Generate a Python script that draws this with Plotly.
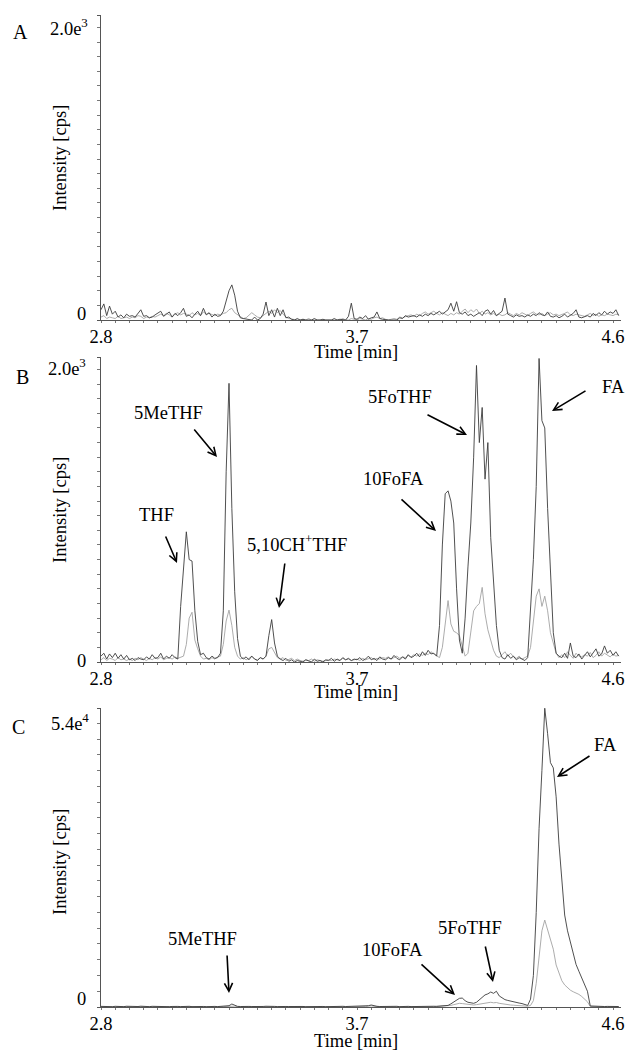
import plotly.graph_objects as go

# ---------------- data ----------------
TIME_START = 2.80   # min
TIME_STEP = 0.01    # min, sampling step of the traces below
X_TICKS = [2.8, 3.7, 4.6]
Y_MAX_AB = 2085
Y_MAX_C = 56900

# Panel A (blank) - intensity [cps]
A_dark = [
    70, 110, 30, 95, 40, 60, 20, 35, 15, 40,
    25, 30, 20, 45, 70, 25, 30, 15, 20, 35,
    50, 60, 25, 40, 55, 20, 45, 30, 50, 80,
    25, 35, 15, 40, 60, 30, 80, 35, 50, 20,
    40, 25, 30, 60, 130, 200, 240, 170, 60, 15,
    10, 5, 0, 0, 20, 0, 10, 40, 123, 30,
    70, 20, 80, 30, 70, 15, 20, 5, 0, 10,
    0, 5, 0, 0, 0, 10, 0, 0, 5, 0,
    0, 0, 10, 0, 5, 0, 0, 25, 115, 10,
    5, 20, 10, 30, 5, 15, 20, 55, 10, 5,
    0, 0, 0, 0, 0, 15, 10, 30, 20, 25,
    30, 20, 35, 25, 40, 30, 45, 35, 50, 60,
    40, 55, 70, 115, 60, 125, 50, 40, 55, 30,
    40, 25, 35, 50, 30, 60, 70, 40, 65, 30,
    45, 60, 150, 40, 30, 20, 35, 25, 30, 20,
    35, 25, 40, 30, 50, 35, 30, 55, 25, 20,
    30, 15, 25, 40, 20, 30, 45, 70, 20, 15,
    25, 30, 20, 45, 30, 50, 35, 60, 40, 55,
    45, 70, 30,
]
A_light = [
    20, 30, 10, 20, 15, 10, 25, 10, 15, 20,
    10, 20, 15, 30, 25, 10, 20, 15, 25, 20,
    30, 40, 30, 45, 35, 20, 40, 50, 35, 45,
    40, 30, 50, 35, 45, 30, 55, 40, 45, 35,
    30, 40, 35, 45, 50, 70, 80, 50, 35, 20,
    10, 15, 30, 50, 35, 20, 15, 30, 40, 60,
    45, 70, 50, 65, 40, 20, 10, 5, 0, 0,
    0, 5, 0, 10, 0, 0, 5, 0, 0, 5,
    0, 0, 5, 0, 0, 10, 0, 0, 10, 5,
    0, 10, 5, 0, 10, 5, 15, 20, 10, 15,
    5, 0, 5, 10, 5, 20, 15, 25, 30, 35,
    25, 40, 30, 45, 55, 40, 50, 60, 45, 35,
    50, 40, 30, 45, 35, 50, 40, 60, 75, 50,
    70, 55, 75, 45, 60, 40, 50, 35, 45, 30,
    40, 30, 35, 50, 40, 30, 45, 35, 50, 40,
    30, 45, 55, 40, 35, 45, 30, 40, 50, 35,
    40, 30, 35, 45, 55, 35, 30, 40, 35, 30,
    25, 35, 45, 30, 40, 25, 35, 30, 40, 35,
    30, 40, 35,
]

# Panel B (standards)
B_dark = [
    40, 60, 20, 55, 30, 60, 25, 50, 20, 45,
    15, 25, 10, 30, 20, 15, 35, 20, 50, 25,
    30, 60, 20, 40, 25, 50, 30, 20, 380, 620,
    890, 700, 690, 350, 140, 50, 60, 30, 20, 40,
    25, 30, 60, 350, 1300, 1905, 1050, 480, 160, 40,
    20, 35, 15, 40, 20, 10, 30, 20, 40, 180,
    290, 130, 40, 20, 10, 25, 5, 15, 0, 10,
    5, 0, 15, 10, 0, 20, 5, 10, 0, 15,
    10, 25, 5, 20, 10, 30, 15, 25, 10, 20,
    15, 30, 10, 20, 40, 15, 25, 10, 35, 20,
    15, 30, 20, 45, 25, 15, 35, 20, 50, 30,
    40, 60, 35, 70, 45, 80, 55, 60, 40, 250,
    800, 1150, 1170, 1100, 950, 500, 150, 60, 300, 650,
    950, 1400, 2027, 1500, 1740, 1250, 1500, 850, 550, 250,
    80, 30, 20, 50, 25, 40, 15, 30, 20, 10,
    30, 350, 700, 1200, 2075, 1650, 1600, 1050, 600, 200,
    60, 40, 30, 60, 25, 130, 40, 30, 55, 20,
    45, 70, 35, 60, 90, 40, 55, 110, 60, 80,
    45, 70, 40,
]
B_light = [
    15, 30, 10, 25, 20, 10, 30, 15, 20, 10,
    20, 10, 25, 15, 30, 20, 10, 25, 15, 30,
    20, 35, 15, 25, 30, 20, 35, 25, 30, 40,
    120, 300, 340, 150, 90, 40, 20, 25, 15, 30,
    20, 35, 40, 120, 280, 355, 250, 100, 40, 20,
    30, 15, 25, 40, 20, 15, 30, 20, 40, 90,
    100, 60, 30, 20, 30, 10, 15, 25, 10, 20,
    10, 5, 15, 10, 20, 5, 15, 10, 5, 10,
    15, 10, 20, 15, 10, 25, 15, 20, 10, 15,
    20, 10, 25, 15, 20, 30, 15, 25, 20, 30,
    25, 35, 20, 30, 40, 25, 35, 30, 45, 35,
    50, 40, 55, 45, 60, 50, 70, 55, 45, 30,
    100, 280, 420, 260, 210, 200, 180, 110, 40, 60,
    200, 350, 380, 400, 510, 330, 220, 140, 80, 40,
    30, 50, 70, 40, 60, 35, 25, 40, 20, 30,
    40, 100, 280, 450, 500, 380, 450, 350, 200, 120,
    60, 30, 50, 30, 70, 45, 25, 60, 40, 35,
    50, 40, 65, 30, 45, 70, 40, 60, 50, 35,
    55, 40, 45,
]

# Panel C (sample)
C_dark = [
    120, 80, 150, 100, 60, 130, 90, 110, 70, 140,
    100, 60, 120, 90, 150, 80, 110, 70, 130, 100,
    80, 140, 90, 120, 60, 100, 150, 110, 80, 120,
    90, 130, 70, 110, 140, 80, 100, 60, 120, 90,
    110, 80, 130, 100, 150, 250, 570, 300, 120, 90,
    130, 70, 110, 90, 60, 120, 80, 100, 140, 90,
    70, 110, 80, 130, 60, 100, 90, 120, 70, 110,
    80, 100, 60, 90, 120, 70, 110, 80, 100, 60,
    90, 120, 70, 100, 80, 130, 90, 110, 70, 120,
    100, 140, 90, 160, 250, 380, 200, 130, 90, 110,
    80, 120, 100, 90, 130, 70, 110, 90, 120, 80,
    100, 130, 90, 120, 110, 150, 100, 140, 120, 160,
    180, 220, 300, 600, 1000, 1400, 1650, 1700, 1200, 900,
    800, 700, 900, 1400, 1900, 2300, 2500, 2850, 2600, 3000,
    2100, 1700, 1400, 1250, 1100, 1000, 900, 750, 650, 500,
    300, 1500, 6000, 18000, 34000, 45000, 56850, 52000, 46500, 45500,
    40000, 31000, 24000, 17500, 14500, 12200, 10200, 8100, 6800, 5500,
    4300, 3000, 200, 150, 120, 100, 140, 90, 110, 130,
    100, 120, 90,
]
C_light = [
    60, 40, 80, 50, 70, 30, 90, 50, 60, 40,
    70, 50, 40, 80, 60, 30, 70, 50, 90, 60,
    40, 70, 50, 60, 80, 40, 60, 90, 50, 70,
    60, 40, 80, 50, 70, 60, 40, 90, 60, 50,
    70, 50, 60, 80, 90, 150, 250, 160, 80, 60,
    50, 70, 40, 60, 80, 50, 70, 40, 60, 50,
    80, 40, 60, 70, 50, 40, 70, 60, 50, 80,
    60, 50, 70, 40, 60, 80, 50, 70, 40, 60,
    50, 70, 60, 40, 80, 50, 60, 70, 50, 40,
    60, 80, 50, 90, 150, 220, 130, 70, 60, 50,
    70, 50, 60, 80, 40, 60, 70, 50, 80, 60,
    50, 70, 60, 80, 70, 90, 60, 80, 100, 90,
    110, 150, 200, 300, 450, 600, 700, 650, 550, 450,
    400, 380, 450, 550, 700, 800, 850, 900, 800, 850,
    700, 600, 500, 420, 380, 340, 300, 250, 220, 180,
    150, 300, 1200, 4500, 10000, 14500, 16540, 14800, 13200, 11000,
    8000, 6300, 5000, 4200, 3600, 3200, 2900, 2700, 2400, 2000,
    1500, 1000, 100, 80, 60, 90, 50, 70, 60, 80,
    50, 70, 60,
]

TIME = [round(TIME_START + TIME_STEP * i, 2) for i in range(len(A_dark))]

# ---------------- figure ----------------
W, H = 629, 1051
FONT = "Liberation Serif, Times New Roman, serif"
DARK = "#3c3c3c"
LIGHT = "#a3a3a3"


def px(x, y):
    return x / W, 1 - y / H


fig = go.Figure()
panels = [
    ("x", "y", A_dark, A_light),
    ("x2", "y2", B_dark, B_light),
    ("x3", "y3", C_dark, C_light),
]
for xa, ya, dark, light in panels:
    fig.add_trace(go.Scatter(x=TIME, y=light, xaxis=xa, yaxis=ya, mode="lines",
                             line=dict(color=LIGHT, width=0.9), showlegend=False))
    fig.add_trace(go.Scatter(x=TIME, y=dark, xaxis=xa, yaxis=ya, mode="lines",
                             line=dict(color=DARK, width=0.9), showlegend=False))

x_dom = [101 / W, 621 / W]
y_doms = [(15, 320), (357, 662), (708, 1007)]
y_max = [Y_MAX_AB, Y_MAX_AB, Y_MAX_C]
y_minor = [100, 100, 3000]

layout = dict(
    width=W, height=H, margin=dict(l=0, r=0, t=0, b=0), autosize=False,
    paper_bgcolor="white", plot_bgcolor="white",
    font=dict(family=FONT, size=18.5, color="black"),
)
for k in range(3):
    sfx = "" if k == 0 else str(k + 1)
    top, bot = y_doms[k]
    layout["xaxis" + sfx] = dict(
        domain=x_dom, range=[2.8, 4.628], anchor="y" + sfx,
        showline=True, linecolor="#555555", linewidth=1,
        showgrid=False, zeroline=False, automargin=False,
        tickmode="array", tickvals=X_TICKS, ticktext=[f"{v:.1f}" for v in X_TICKS],
        ticks="", ticklen=0,
        minor=dict(ticks="outside", ticklen=2, tickcolor="#777777",
                   tickmode="linear", tick0=2.8, dtick=0.05, showgrid=False),
        tickfont=dict(family=FONT, size=18.5, color="black"),
    )
    layout["yaxis" + sfx] = dict(
        domain=[1 - bot / H, 1 - top / H], range=[0, y_max[k]], anchor="x" + sfx,
        showline=True, linecolor="#555555", linewidth=1, automargin=False,
        showgrid=False, zeroline=False, showticklabels=False,
        tickmode="array", tickvals=[0, y_max[k]],
        ticks="outside", ticklen=3, tickcolor="#555555",
        minor=dict(ticks="outside", ticklen=3, tickcolor="#777777",
                   tickmode="linear", tick0=0, dtick=y_minor[k], showgrid=False),
    )
fig.update_layout(**layout)

ann = []


def text(s, x, y, size=18.5, xanchor="center", angle=0):
    xp, yp = px(x, y)
    ann.append(dict(text=s, x=xp, y=yp, xref="paper", yref="paper", showarrow=False,
                    xanchor=xanchor, yanchor="middle", textangle=angle,
                    font=dict(family=FONT, size=size, color="black")))


def arrow(tx, ty, hx, hy):
    xp, yp = px(hx, hy)
    ann.append(dict(text="", x=xp, y=yp, xref="paper", yref="paper", showarrow=True,
                    ax=tx - hx, ay=ty - hy, arrowhead=5, arrowsize=1.0,
                    arrowwidth=1.6, arrowcolor="black", standoff=0, startstandoff=0))


# panel letters
text("A", 20, 32, size=20)
text("B", 22, 377, size=20)
text("C", 18, 727, size=20)

# y-axis end labels
text("2.0e<sup>3</sup>", 90, 27, xanchor="right")
text("0", 88, 314, xanchor="right")
text("2.0e<sup>3</sup>", 88, 367, xanchor="right")
text("0", 88, 661, xanchor="right")
text("5.4e<sup>4</sup>", 91, 722, xanchor="right")
text("0", 88, 999, xanchor="right")

# axis titles
for yc in (352, 692, 1041):
    text("Time [min]", 356, yc)
for yc in (158, 510, 862):
    text("Intensity [cps]", 60, yc, angle=-90)

# compound labels + arrows, panel B
text("THF", 156, 515)
arrow(165, 535, 177, 563)
text("5MeTHF", 168, 413)
arrow(193, 428, 217, 457)
text("5,10CH<sup>+</sup>THF", 297, 543)
arrow(285, 562, 279, 608)
text("10FoFA", 393, 479)
arrow(400, 498, 436, 531)
text("5FoTHF", 400, 397)
arrow(426, 414, 467, 435)
text("FA", 613, 387)
arrow(587, 390, 552, 411)

# panel C
text("5MeTHF", 202, 939)
arrow(227, 954, 229, 993)
text("10FoFA", 392, 950)
arrow(420, 963, 455, 995)
text("5FoTHF", 470, 928)
arrow(485, 945, 493, 982)
text("FA", 605, 745)
arrow(591, 755, 557, 777)

fig.update_layout(annotations=ann)
fig.write_html(
    "out.html",
    config={"displayModeBar": False},
    post_script="document.body.style.margin='0';document.documentElement.style.overflow='hidden';document.body.style.overflow='hidden';",
)
